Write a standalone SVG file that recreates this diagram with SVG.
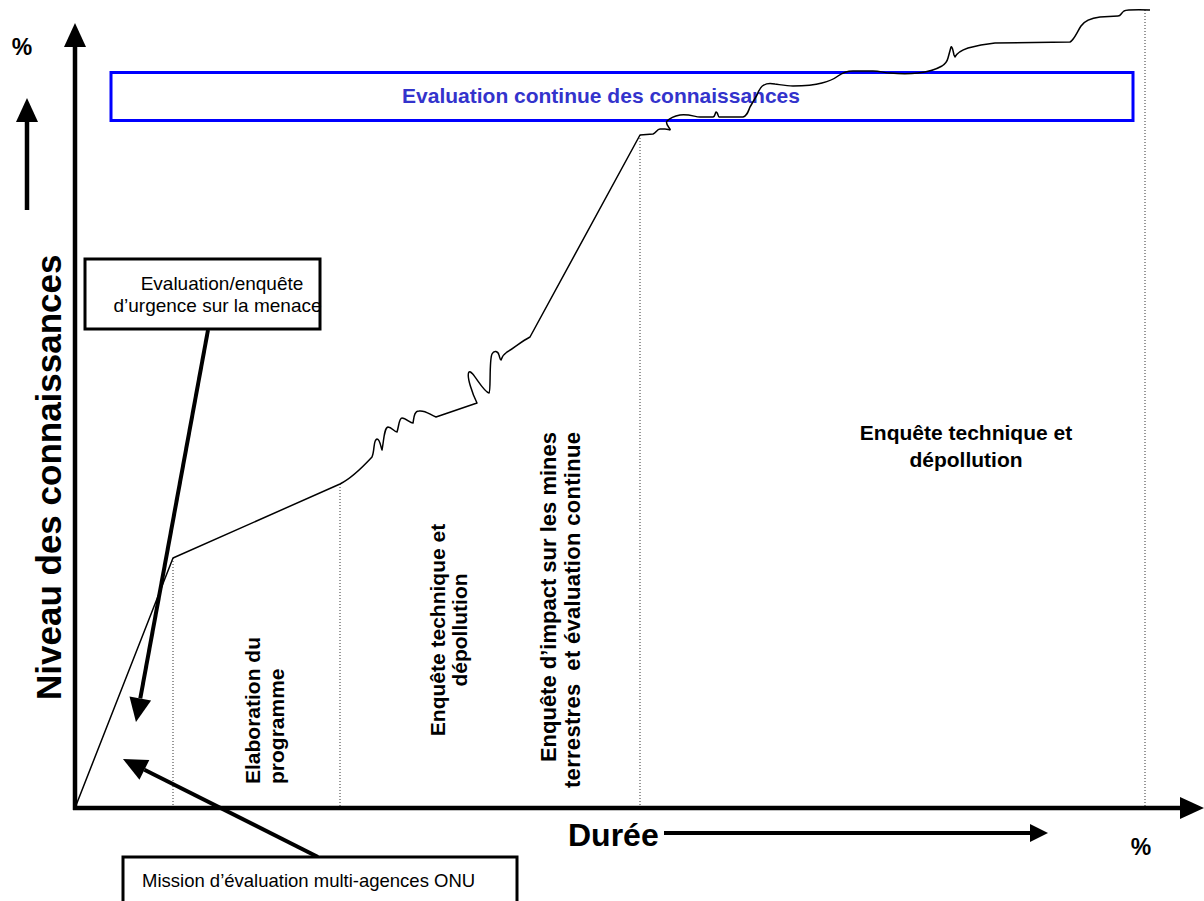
<svg xmlns="http://www.w3.org/2000/svg" width="1204" height="901" viewBox="0 0 1204 901">
<style>
.lbl{font-family:"Liberation Sans",Arial,sans-serif;font-weight:bold;fill:#000}
.reg{font-family:"Liberation Sans",Arial,sans-serif;fill:#000;font-size:18.5px}
.dot{stroke:#333;stroke-width:1;stroke-dasharray:1 2;fill:none}
.ax{stroke:#000;stroke-width:4.5;fill:none}
.arr{stroke:#000;stroke-width:4;fill:none}
.box{fill:#fff;stroke:#000;stroke-width:3}
</style>
<defs>
<marker id="hbig" markerUnits="userSpaceOnUse" markerWidth="24" markerHeight="22" refX="0" refY="11" orient="auto" overflow="visible"><path d="M0,0 L24,11 L0,22 z" fill="#000"/></marker>
<marker id="hsm" markerUnits="userSpaceOnUse" markerWidth="18" markerHeight="18" refX="0" refY="9" orient="auto" overflow="visible"><path d="M0,0 L18,9 L0,18 z" fill="#000"/></marker>
</defs>
<rect width="1204" height="901" fill="#fff"/>

<g id="dotted-lines">
<line class="dot" x1="173" y1="558" x2="173" y2="808"/>
<line class="dot" x1="340" y1="484" x2="340" y2="808"/>
<line class="dot" x1="640" y1="135" x2="640" y2="808"/>
<line class="dot" x1="1145" y1="10" x2="1145" y2="808"/>
</g>

<g id="banner">
<rect x="111" y="72.5" width="1022" height="48" fill="none" stroke="#0000FF" stroke-width="3"/>
<text class="lbl" x="601" y="103" text-anchor="middle" font-size="21" style="fill:#3333CC">Evaluation continue des connaissances</text>
</g>

<g id="curve">
<path d="M75,808 L173,558 L340,484 C350,479 360,470 372,457 C375,450 373,440 377,439 C380,439 381,448 382,450 C384,440 384,428 388,427 C392,427 394,432 397,432 C399,426 399,418 402,418 C406,418 410,423 413,423 C414,418 414,411 419,411 C426,410 430,415 436,417 L477,403 C473,395 466,376 469,372 C472,369 483,392 489,393 C491,392 489,360 492,354 C494,350 498,351 499,355 C500,358 500,360 501,360 C502,357 504,354 507,352 C514,348 522,341 530,337 L640,135 L653,134 C656,133 657,129 660,129 L665,129 C668,129 671,131 670,129 C669,127 665,124 667,121 C670,118 675,116 680,115 C690,114 695,117 700,117 L713,117 C715,117 715,113 716,112 C718,112 718,117 719,117 L743,117 C747,116 748,112 750,107 L757,95 C759,90 761,86 764,85 C767,83 770,83 775,84 C782,85 787,86 793,86 C805,86 815,85 822,83 C830,81 834,79 838,76 C842,73 847,71 853,71 L873,71 C880,71 885,73 890,73 C900,74 910,74 918,73 C928,72 935,70 942,66 C945,64 947,62 948,58 L951,47 C952,46 953,50 954,55 L955,57 C957,53 962,50 968,48 C975,46 985,44 995,43 L1070,42 C1074,40 1077,32 1081,26 C1085,20 1092,18 1100,17 L1118,16 C1121,16 1121,13 1124,11 C1127,9.5 1132,9.5 1150,10" fill="none" stroke="#000" stroke-width="1.5" stroke-linejoin="round"/>
</g>

<g id="axes">
<line class="ax" x1="75" y1="810" x2="75" y2="47" marker-end="url(#hbig)"/>
<line class="ax" x1="73" y1="808" x2="1180" y2="808" marker-end="url(#hbig)"/>
<line class="ax" x1="27" y1="210" x2="27" y2="122" marker-end="url(#hbig)"/>
<line class="arr" x1="664" y1="833" x2="1030" y2="833" marker-end="url(#hsm)"/>
</g>

<g id="axis-labels">
<text class="lbl" x="22" y="55" text-anchor="middle" font-size="23">%</text>
<text class="lbl" x="1141" y="855" text-anchor="middle" font-size="23">%</text>
<text class="lbl" transform="translate(61,700) rotate(-90)" font-size="35">Niveau des connaissances</text>
<text class="lbl" x="568" y="846" font-size="32">Durée</text>
</g>

<g id="connectors">
<line class="arr" x1="208" y1="330" x2="140.3" y2="698.4" marker-end="url(#hbig)"/>
<line class="arr" x1="318" y1="857" x2="144.4" y2="769.8" marker-end="url(#hbig)"/>
</g>

<g id="node-urgence">
<rect class="box" x="85" y="259" width="235" height="70"/>
<text class="reg" x="222" y="290" text-anchor="middle" font-size="19" style="font-size:19px">Evaluation/enquête</text>
<text class="reg" x="217.5" y="312" text-anchor="middle" style="font-size:19px">d’urgence sur la menace</text>
</g>

<g id="node-mission">
<rect class="box" x="123" y="857" width="394" height="60"/>
<text class="reg" x="142" y="887">Mission d’évaluation multi-agences ONU</text>
</g>

<g id="phase-elaboration">
<text class="lbl" font-size="21" transform="translate(260,784) rotate(-90)">Elaboration du</text>
<text class="lbl" font-size="21" transform="translate(284,784) rotate(-90)">programme</text>
</g>

<g id="phase-enquete-technique">
<text class="lbl" font-size="21" text-anchor="middle" transform="translate(445,630) rotate(-90)">Enquête technique et</text>
<text class="lbl" font-size="21" text-anchor="middle" transform="translate(467,630) rotate(-90)">dépollution</text>
</g>

<g id="phase-impact">
<text class="lbl" font-size="22" text-anchor="end" transform="translate(556,432) rotate(-90)">Enquête d’impact sur les mines</text>
<text class="lbl" font-size="22" text-anchor="end" transform="translate(580,432) rotate(-90)" xml:space="preserve" textLength="356" lengthAdjust="spacing">terrestres  et évaluation continue</text>
</g>

<g id="phase-depollution">
<text class="lbl" font-size="21" text-anchor="middle" x="966" y="440">Enquête technique et</text>
<text class="lbl" font-size="21" text-anchor="middle" x="966" y="467">dépollution</text>
</g>
</svg>
